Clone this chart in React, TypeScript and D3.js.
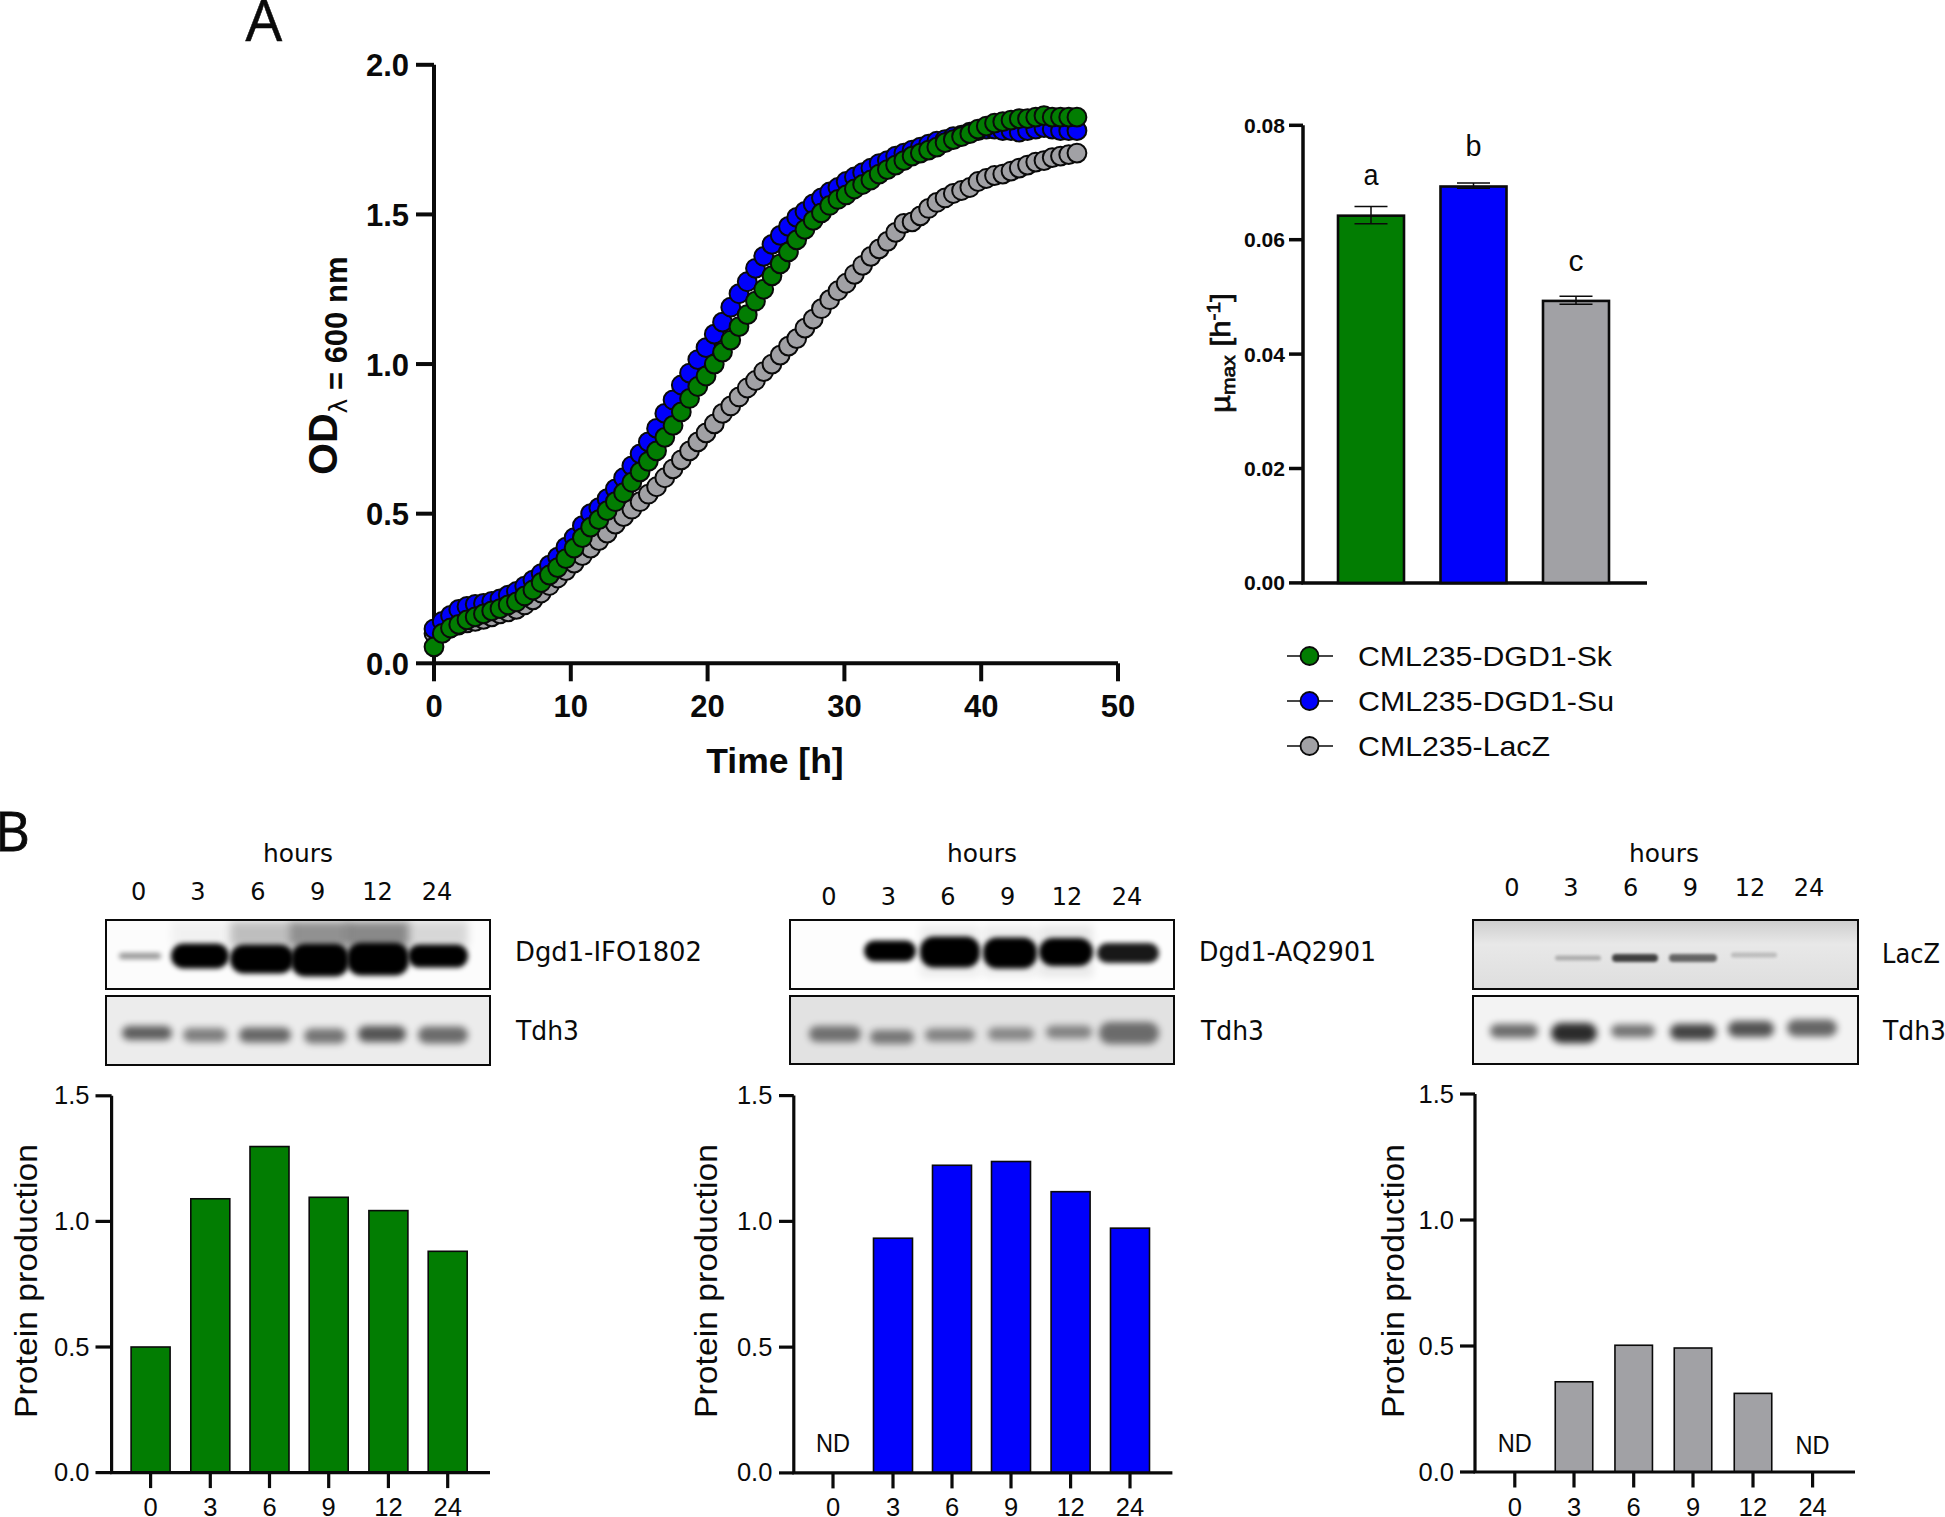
import React from "react";
import * as d3 from "d3";

const GREEN = "#027d02";
const BLUE = "#0000fb";
const GRAY = "#a1a1a5";
const INK = "#0a0a0a";
const ARIAL = "'Liberation Sans', Arial, sans-serif";
const VERDANA = "'DejaVu Sans', Verdana, sans-serif";

// ---------- Panel A data ----------
const growthHours: number[] = d3.range(79).map((i) => (i * 47) / 78);
const growthSk = [
  0.055, 0.1, 0.118, 0.13, 0.145, 0.155, 0.165, 0.175, 0.183, 0.195,
  0.205, 0.225, 0.245, 0.27, 0.295, 0.32, 0.35, 0.385, 0.42, 0.455,
  0.48, 0.51, 0.54, 0.57, 0.605, 0.64, 0.675, 0.71, 0.755, 0.795,
  0.84, 0.885, 0.925, 0.96, 1.0, 1.04, 1.08, 1.125, 1.165, 1.21,
  1.25, 1.295, 1.335, 1.375, 1.415, 1.45, 1.48, 1.505, 1.53, 1.55,
  1.565, 1.585, 1.6, 1.615, 1.635, 1.65, 1.665, 1.68, 1.695, 1.705,
  1.715, 1.725, 1.74, 1.75, 1.76, 1.77, 1.785, 1.795, 1.805, 1.81,
  1.815, 1.82, 1.82, 1.825, 1.83, 1.825, 1.825, 1.825, 1.825,
];
const growthSu = [
  0.115, 0.14, 0.16, 0.18, 0.19, 0.197, 0.2, 0.207, 0.215, 0.228,
  0.24, 0.258, 0.278, 0.3, 0.328, 0.355, 0.388, 0.42, 0.46, 0.5,
  0.52, 0.55, 0.583, 0.62, 0.66, 0.7, 0.74, 0.785, 0.835, 0.88,
  0.93, 0.97, 1.015, 1.055, 1.1, 1.14, 1.19, 1.235, 1.275, 1.32,
  1.36, 1.4, 1.43, 1.46, 1.49, 1.51, 1.535, 1.555, 1.575, 1.59,
  1.61, 1.625, 1.64, 1.655, 1.67, 1.68, 1.695, 1.705, 1.715, 1.725,
  1.735, 1.745, 1.75, 1.76, 1.765, 1.775, 1.78, 1.785, 1.785, 1.78,
  1.78, 1.775, 1.78, 1.785, 1.79, 1.785, 1.78, 1.78, 1.78,
];
const growthLacZ = [
  0.1, 0.105, 0.118, 0.128, 0.135, 0.14, 0.147, 0.155, 0.165, 0.172,
  0.18, 0.195, 0.212, 0.235, 0.26, 0.285, 0.31, 0.335, 0.36, 0.385,
  0.41, 0.435, 0.465, 0.49, 0.515, 0.54, 0.565, 0.59, 0.62, 0.65,
  0.68, 0.71, 0.74, 0.77, 0.8, 0.835, 0.86, 0.89, 0.92, 0.945,
  0.975, 1.0, 1.03, 1.06, 1.085, 1.12, 1.15, 1.185, 1.215, 1.245,
  1.27, 1.3, 1.33, 1.36, 1.385, 1.41, 1.44, 1.47, 1.475, 1.495,
  1.52, 1.54, 1.555, 1.57, 1.58, 1.59, 1.61, 1.62, 1.63, 1.635,
  1.645, 1.655, 1.665, 1.675, 1.68, 1.69, 1.695, 1.7, 1.705,
];
const growthXTicks = [0, 10, 20, 30, 40, 50];
const growthYTicks = [0, 0.5, 1, 1.5, 2];

const muStrains = ["CML235-DGD1-Sk", "CML235-DGD1-Su", "CML235-LacZ"];
const muValues = [0.0642, 0.0693, 0.0493];
const muErrLow = [0.0628, 0.069, 0.0487];
const muErrHigh = [0.0658, 0.0699, 0.0501];
const muLetters = ["a", "b", "c"];
const muTicks = [0, 0.02, 0.04, 0.06, 0.08];

// ---------- Panel B data ----------
const hourLabels = ["0", "3", "6", "9", "12", "24"];
const protYTicks = [0, 0.5, 1, 1.5];
const protIFO = [0.5, 1.09, 1.298, 1.096, 1.043, 0.881];
const protAQ = [null, 0.933, 1.223, 1.238, 1.118, 0.973];
const protLacZ = [null, 0.358, 0.503, 0.492, 0.312, null];

// band densities read off the blots (0 = no signal, 1 = saturated)
const blotIFO = [0.42, 1, 1, 1, 1, 1];
const blotIFOUpper = [0, 0.04, 0.24, 0.42, 0.45, 0.14];
const loadIFO = [0.6, 0.46, 0.56, 0.5, 0.64, 0.54];
const blotAQ = [0, 1, 1, 1, 1, 0.9];
const blotAQUpper = [0, 0, 0.06, 0.06, 0.08, 0];
const loadAQ = [0.5, 0.47, 0.42, 0.4, 0.42, 0.52];
const blotLZ = [0, 0.24, 0.72, 0.56, 0.18, 0];
const blotLZUpper = [0, 0, 0, 0, 0, 0];
const loadLZ = [0.55, 0.82, 0.52, 0.72, 0.66, 0.58];

const H = 1517;
const W = 1945;

type TProps = {
  x: number; y: number; size: number; children?: React.ReactNode; anchor?: string;
  weight?: string | number; family?: string; len?: number; rotate?: boolean; fill?: string; sw?: number;
};
function T({ x, y, size, children, anchor = "start", weight = "normal", family = ARIAL, len, rotate, fill = INK, sw }: TProps) {
  const extra: any = len ? { textLength: len, lengthAdjust: "spacingAndGlyphs" } : {};
  if (sw) { extra.stroke = fill; extra.strokeWidth = sw; }
  return (
    <text
      x={rotate ? 0 : x}
      y={rotate ? 0 : y}
      transform={rotate ? `translate(${x},${y}) rotate(-90)` : undefined}
      fontSize={size}
      fontFamily={family}
      fontWeight={weight}
      textAnchor={anchor}
      fill={fill}
      {...extra}
    >
      {children}
    </text>
  );
}

function GrowthPanel() {
  const x = d3.scaleLinear().domain([0, 50]).range([434, 1118]);
  const y = d3.scaleLinear().domain([0, 2]).range([663.3, 64.8]);
  const series = [
    { v: growthLacZ, c: GRAY },
    { v: growthSu, c: BLUE },
    { v: growthSk, c: GREEN },
  ];
  return (
    <g>
      <path d={`M${x(0)},${y(2)}V${y(0)}H${x(50)}`} fill="none" stroke={INK} strokeWidth={4} />
      {growthYTicks.map((t) => (
        <g key={t}>
          <line x1={416} x2={x(0)} y1={y(t)} y2={y(t)} stroke={INK} strokeWidth={4} />
          <T x={409} y={y(t) + 11.5} size={31} weight="bold" anchor="end">{d3.format(".1f")(t)}</T>
        </g>
      ))}
      {growthXTicks.map((t) => (
        <g key={t}>
          <line x1={x(t)} x2={x(t)} y1={y(0)} y2={y(0) + 18} stroke={INK} strokeWidth={4} />
          <T x={x(t)} y={717} size={31} weight="bold" anchor="middle">{t}</T>
        </g>
      ))}
      <T x={775} y={773} size={35.5} weight="bold" anchor="middle">Time [h]</T>
      <text transform="translate(337,475) rotate(-90)" fontFamily={ARIAL} fontWeight="bold" fill={INK}>
        <tspan fontSize={41}>OD</tspan>
        <tspan fontSize={25} dy={10} fontFamily={VERDANA} fontWeight="normal">λ</tspan>
        <tspan fontSize={31}> = 600 nm</tspan>
      </text>
      {series.map((s) => (
        <g key={s.c}>
          {s.v.map((v, i) => (
            <circle key={i} cx={x(growthHours[i])} cy={y(v)} r={9.4} fill={s.c} stroke={INK} strokeWidth={2} />
          ))}
        </g>
      ))}
    </g>
  );
}

function MuPanel() {
  const x = d3.scalePoint<string>().domain(muStrains).range([1371, 1576]);
  const y = d3.scaleLinear().domain([0, 0.08]).range([582.9, 125.3]);
  const colors = [GREEN, BLUE, GRAY];
  const letterY = [185, 156, 271];
  const legendY = [656, 701, 746];
  const legendLen = [254, 256, 192];
  return (
    <g>
      <path d={`M1303,${y(0.08)}V${y(0)}H1647`} fill="none" stroke={INK} strokeWidth={3.5} />
      {muTicks.map((t) => (
        <g key={t}>
          <line x1={1289} x2={1303} y1={y(t)} y2={y(t)} stroke={INK} strokeWidth={3.5} />
          <T x={1285} y={y(t) + 7.5} size={21} weight="bold" anchor="end" len={41}>{d3.format(".2f")(t)}</T>
        </g>
      ))}
      {muStrains.map((s, i) => (
        <g key={s}>
          <rect x={x(s)! - 33} y={y(muValues[i])} width={66} height={y(0) - y(muValues[i])} fill={colors[i]} stroke={INK} strokeWidth={2.6} />
          <path
            d={`M${x(s)! - 16.5},${y(muErrHigh[i])}H${x(s)! + 16.5}M${x(s)},${y(muErrHigh[i])}V${y(muErrLow[i])}M${x(s)! - 16.5},${y(muErrLow[i])}H${x(s)! + 16.5}`}
            fill="none"
            stroke={INK}
            strokeWidth={1.5}
          />
          <T x={x(s)!} y={letterY[i]} size={30} anchor="middle" len={i === 1 ? 16 : 15}>{muLetters[i]}</T>
        </g>
      ))}
      <text transform="translate(1230,413) rotate(-90)" fontFamily={ARIAL} fill={INK} stroke={INK} strokeWidth={0.7} textLength={120} lengthAdjust="spacingAndGlyphs">
        <tspan fontSize={28}>µ</tspan>
        <tspan fontSize={19} dy={5}>max</tspan>
        <tspan fontSize={28} dy={-5}> [h</tspan>
        <tspan fontSize={19} dy={-10}>-1</tspan>
        <tspan fontSize={28} dy={10}>]</tspan>
      </text>
      {muStrains.map((s, i) => (
        <g key={s}>
          <line x1={1287} x2={1333} y1={legendY[i]} y2={legendY[i]} stroke={INK} strokeWidth={1.6} />
          <circle cx={1309.5} cy={legendY[i]} r={9} fill={colors[i]} stroke={INK} strokeWidth={1.8} />
          <T x={1358} y={legendY[i] + 10} size={28} len={legendLen[i]}>{s}</T>
        </g>
      ))}
    </g>
  );
}

type BlotCfg = {
  id: string;
  x0: number; x1: number;
  tops: [number, number]; bottoms: [number, number];
  bgTop: string; bgBottom: string;
  upper: number[]; target: number[]; load: number[];
  tCx: number[]; tW: number[]; tH: number[]; tY: number[];
  lCx: number[]; lW: number[]; lH: number[]; lY: number[];
  upperY: number; upperH: number;
  tBlur: number;
};

function Blot({ c }: { c: BlotCfg }) {
  const w = c.x1 - c.x0;
  const tH = c.tops[1] - c.tops[0];
  const bH = c.bottoms[1] - c.bottoms[0];
  return (
    <g>
      <clipPath id={`${c.id}-t`}><rect x={c.x0} y={c.tops[0]} width={w} height={tH} /></clipPath>
      <clipPath id={`${c.id}-b`}><rect x={c.x0} y={c.bottoms[0]} width={w} height={bH} /></clipPath>
      <g clipPath={`url(#${c.id}-t)`}>
        <rect x={c.x0} y={c.tops[0]} width={w} height={tH} fill={c.bgTop} />
        {c.upper.map((d, i) =>
          d > 0 ? (
            <rect key={`u${i}`} x={c.tCx[i] - c.tW[i] / 2} y={c.upperY} width={c.tW[i]} height={c.upperH} fill="#000" opacity={d} filter="url(#blurWide)" />
          ) : null
        )}
        {c.target.map((d, i) =>
          d > 0 ? (
            <rect key={`m${i}`} x={c.tCx[i] - c.tW[i] / 2} y={c.tY[i] - c.tH[i] / 2} width={c.tW[i]} height={c.tH[i]} rx={Math.min(c.tH[i] / 2, 14)} fill="#000" opacity={d} filter={`url(#${c.tBlur > 2 ? "blurBand" : "blurThin"})`} />
          ) : null
        )}
      </g>
      <g clipPath={`url(#${c.id}-b)`}>
        <rect x={c.x0} y={c.bottoms[0]} width={w} height={bH} fill={c.bgBottom} />
        {c.load.map((d, i) => (
          <rect key={`l${i}`} x={c.lCx[i] - c.lW[i] / 2} y={c.lY[i] - c.lH[i] / 2} width={c.lW[i]} height={c.lH[i]} rx={c.lH[i] / 2} fill="#000" opacity={d} filter="url(#blurSoft)" />
        ))}
      </g>
      <rect x={c.x0} y={c.tops[0]} width={w} height={tH} fill="none" stroke={INK} strokeWidth={2} />
      <rect x={c.x0} y={c.bottoms[0]} width={w} height={bH} fill="none" stroke={INK} strokeWidth={2} />
    </g>
  );
}

type ProtCfg = {
  axisX: number; rightX: number; y15: number; y0: number; tickL: number; cx: number[]; barW: number;
  labelRight: number; titleX: number; values: (number | null)[]; color: string; ndY: number[];
};

function ProtChart({ c }: { c: ProtCfg }) {
  const y = d3.scaleLinear().domain([0, 1.5]).range([c.y0, c.y15]);
  const x = d3.scaleOrdinal<string, number>().domain(hourLabels).range(c.cx);
  return (
    <g>
      {hourLabels.map((h, i) => {
        const v = c.values[i];
        return (
          <g key={h}>
            {v !== null && (
              <rect x={x(h) - c.barW / 2} y={y(v)} width={c.barW} height={c.y0 - y(v)} fill={c.color} stroke={INK} strokeWidth={1.6} />
            )}
            {v === null && <T x={x(h)} y={c.ndY[i]} size={25} anchor="middle" len={34}>ND</T>}
            <line x1={x(h)} x2={x(h)} y1={c.y0} y2={c.y0 + 15.5} stroke={INK} strokeWidth={3.2} />
            <T x={x(h)} y={1515.5} size={25.5} anchor="middle">{h}</T>
          </g>
        );
      })}
      <path d={`M${c.axisX},${c.y15}V${c.y0}H${c.rightX}`} fill="none" stroke={INK} strokeWidth={3.2} />
      {protYTicks.map((t) => (
        <g key={t}>
          <line x1={c.tickL} x2={c.axisX} y1={y(t)} y2={y(t)} stroke={INK} strokeWidth={3.2} />
          <T x={c.labelRight} y={y(t) + 8.5} size={25.5} anchor="end">{d3.format(".1f")(t)}</T>
        </g>
      ))}
      <T x={c.titleX} y={1418} size={32} rotate len={274}>Protein production</T>
    </g>
  );
}

function Hours({ cx, x, labels, labelY }: { cx: number[]; x: number; labels: { t: string; x: number; y: number; len: number }[]; labelY: number }) {
  return (
    <g>
      <T x={x} y={862} size={25} family={VERDANA} anchor="middle" len={70}>hours</T>
      {hourLabels.map((h, i) => (
        <T key={h} x={cx[i]} y={labelY} size={24} family={VERDANA} anchor="middle">{h}</T>
      ))}
      {labels.map((l) => (
        <T key={l.t} x={l.x} y={l.y} size={26} family={VERDANA} len={l.len}>{l.t}</T>
      ))}
    </g>
  );
}

const blotA: BlotCfg = {
  id: "a", x0: 106, x1: 490, tops: [920, 989], bottoms: [996, 1065], bgTop: "#fcfcfc", bgBottom: "#ececec",
  upper: blotIFOUpper, target: blotIFO, load: loadIFO, upperY: 921, upperH: 26, tBlur: 3,
  tCx: [140, 200, 262, 320, 378, 438], tW: [42, 58, 64, 58, 62, 60], tH: [6, 25, 29, 33, 33, 23], tY: [956, 956, 959, 960, 959, 956],
  lCx: [147, 205, 265, 325, 382, 443], lW: [50, 44, 52, 42, 48, 50], lH: [14, 14, 15, 15, 16, 17], lY: [1033, 1035, 1035, 1036, 1034, 1035],
};
const blotB: BlotCfg = {
  id: "b", x0: 790, x1: 1174, tops: [920, 989], bottoms: [996, 1064], bgTop: "#fdfdfd", bgBottom: "#e2e2e2",
  upper: blotAQUpper, target: blotAQ, load: loadAQ, upperY: 925, upperH: 52, tBlur: 3,
  tCx: [835, 890, 950, 1010, 1066, 1128], tW: [46, 52, 60, 54, 54, 62], tH: [14, 21, 31, 31, 28, 20], tY: [952, 951, 952, 953, 952, 953],
  lCx: [835, 892, 950, 1011, 1069, 1129], lW: [52, 44, 50, 46, 46, 60], lH: [16, 14, 13, 13, 13, 22], lY: [1034, 1037, 1035, 1034, 1032, 1033],
};
const blotC: BlotCfg = {
  id: "c", x0: 1473, x1: 1858, tops: [920, 989], bottoms: [996, 1064], bgTop: "url(#lzBg)", bgBottom: "#f3f3f3",
  upper: blotLZUpper, target: blotLZ, load: loadLZ, upperY: 925, upperH: 10, tBlur: 1,
  tCx: [1512, 1578, 1635, 1693, 1754, 1812], tW: [0, 46, 46, 48, 46, 0], tH: [0, 5, 8, 8, 5, 0], tY: [957, 958, 958, 958, 955, 957],
  lCx: [1514, 1574, 1633, 1693, 1751, 1812], lW: [48, 46, 44, 46, 46, 50], lH: [14, 20, 13, 16, 16, 17], lY: [1031, 1033, 1031, 1032, 1029, 1028],
};

const chart1: ProtCfg = {
  axisX: 111.6, rightX: 490, y15: 1095.8, y0: 1472.6, tickL: 95.5, barW: 39, labelRight: 89.5, titleX: 37,
  cx: [150.6, 210.3, 269.5, 328.7, 388.4, 447.7], values: protIFO, color: GREEN, ndY: [],
};
const chart2: ProtCfg = {
  axisX: 793.8, rightX: 1172.4, y15: 1095.6, y0: 1472.9, tickL: 779, barW: 39, labelRight: 772.4, titleX: 717,
  cx: [833, 893, 952, 1011, 1070.6, 1130], values: protAQ, color: BLUE, ndY: [1452],
};
const chart3: ProtCfg = {
  axisX: 1475, rightX: 1855, y15: 1094, y0: 1472, tickL: 1460, barW: 37.5, labelRight: 1454, titleX: 1404,
  cx: [1514.8, 1574, 1633.7, 1693, 1753, 1812.6], values: protLacZ, color: GRAY, ndY: [1452, 0, 0, 0, 0, 1454],
};

export default function App() {
  return (
    <svg width={W} height={H} viewBox={`0 0 ${W} ${H}`} style={{ position: "absolute", left: 0, top: 0, display: "block", background: "#fff" }}>
      <defs>
        <filter id="blurBand" x="-40%" y="-150%" width="180%" height="400%"><feGaussianBlur stdDeviation="2.8" /></filter>
        <filter id="blurSoft" x="-40%" y="-150%" width="180%" height="400%"><feGaussianBlur stdDeviation="3.6" /></filter>
        <filter id="blurThin" x="-40%" y="-300%" width="180%" height="700%"><feGaussianBlur stdDeviation="1.6" /></filter>
        <filter id="blurWide" x="-40%" y="-60%" width="180%" height="220%"><feGaussianBlur stdDeviation="4" /></filter>
        <linearGradient id="lzBg" x1="0" y1="0" x2="0" y2="1">
          <stop offset="0" stopColor="#cdcdcd" />
          <stop offset="0.35" stopColor="#e8e8e8" />
          <stop offset="1" stopColor="#dedede" />
        </linearGradient>
      </defs>
      <T x={245.5} y={41} size={58} family="'Open Sans', sans-serif" sw={0.5}>A</T>
      <T x={-5} y={851} size={54} family="'Open Sans', sans-serif" sw={0.8}>B</T>
      <GrowthPanel />
      <MuPanel />
      <Hours cx={[138.7, 198, 258, 317.7, 377.4, 437]} x={298} labelY={899.7}
        labels={[{ t: "Dgd1-IFO1802", x: 515, y: 961, len: 187 }, { t: "Tdh3", x: 516, y: 1040, len: 63 }]} />
      <Hours cx={[829, 888.5, 948, 1007.7, 1067, 1127]} x={982} labelY={905}
        labels={[{ t: "Dgd1-AQ2901", x: 1199, y: 961, len: 177 }, { t: "Tdh3", x: 1201, y: 1040, len: 63 }]} />
      <Hours cx={[1512, 1571, 1630.7, 1690.5, 1750, 1809]} x={1664} labelY={896.4}
        labels={[{ t: "LacZ", x: 1882, y: 963, len: 58 }, { t: "Tdh3", x: 1883, y: 1040, len: 63 }]} />
      <Blot c={blotA} />
      <Blot c={blotB} />
      <Blot c={blotC} />
      <ProtChart c={chart1} />
      <ProtChart c={chart2} />
      <ProtChart c={chart3} />
    </svg>
  );
}
